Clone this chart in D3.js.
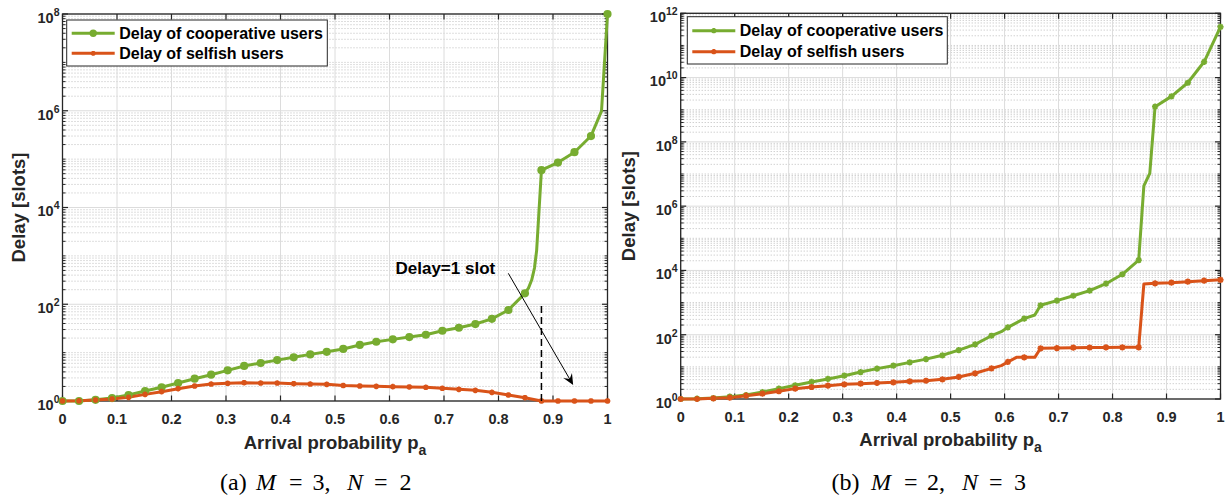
<!DOCTYPE html>
<html>
<head>
<meta charset="utf-8">
<script src="https://cdn.jsdelivr.net/npm/d3@7"></script>
<style>
  body { margin: 0; background: #fff; }
  svg { display: block; }
  .sans { font-family: "Liberation Sans", Arial, Helvetica, sans-serif; font-weight: bold; fill: #262626; }
  .serif { font-family: "Liberation Serif", "DejaVu Serif", serif; fill: #000; }
</style>
</head>
<body>
<svg id="fig" width="1225" height="500"></svg>
<script>
// Arrival probabilities at which the markers are placed (34 samples on [0, 1])
const pGrid = d3.range(34).map(i => i / 33);

// Panel (a): M = 3, N = 2 — average delay [slots] at each pGrid point
const coopA = [1.0, 1.0, 1.06, 1.15, 1.33, 1.61, 1.92, 2.35, 2.89, 3.5, 4.3, 5.3, 6.1, 7.0, 8.0, 9.2, 10.4,
  11.9, 14.4, 16.8, 18.8, 21, 23.4, 28.3, 32.7, 39, 50, 76, 168, 5.9e4, 8.5e4, 1.39e5, 3.0e5, 1e8];
const selfA = [1.0, 1.01, 1.05, 1.1, 1.19, 1.37, 1.56, 1.8, 2.04, 2.24, 2.32, 2.39, 2.35, 2.35, 2.28, 2.24, 2.21,
  2.09, 2.04, 2.01, 1.98, 1.95, 1.92, 1.83, 1.74, 1.66, 1.51, 1.33, 1.17, 1.0, 1.0, 1.0, 1.0, 1.0];
// finer samples of the curves between marker positions
const coopAExtra = [[0.855, 215], [0.861, 320], [0.866, 560], [0.870, 1300], [0.989, 9.8e5]];
const selfAExtra = [];

// Panel (b): M = 2, N = 3
const coopB = [1.0, 1.02, 1.07, 1.18, 1.33, 1.65, 2.1, 2.67, 3.4, 4.2, 5.3, 6.9, 8.8, 10.9, 13.8, 17.4, 22.9,
  33, 50.3, 93, 170, 315, 822, 1150, 1630, 2350, 3870, 7600, 2.1e4, 1.24e9, 2.6e9, 6.9e9, 3.1e10, 3.8e11];
const selfB = [1.0, 1.0, 1.05, 1.1, 1.27, 1.46, 1.74, 2.1, 2.36, 2.6, 2.86, 3.0, 3.15, 3.3, 3.55, 3.7, 4.1,
  4.85, 6.3, 9.0, 14.2, 19.8, 37.8, 38.5, 39.5, 40, 40.3, 40.5, 40.6, 3980, 4150, 4460, 4800, 5100];
const coopBExtra = [[0.594, 124], [0.656, 410], [0.858, 4.3e6], [0.869, 1.05e7]];
const selfBExtra = [[0.594, 10.9], [0.622, 19.8], [0.656, 19.8], [0.858, 3780]];

// Axis ticks and texts
const xTicks = d3.range(11).map(i => i / 10);
const xTickLabels = ["0", "0.1", "0.2", "0.3", "0.4", "0.5", "0.6", "0.7", "0.8", "0.9", "1"];
const yExpA = [0, 2, 4, 6, 8];
const yExpB = [0, 2, 4, 6, 8, 10, 12];
const legendLabels = ["Delay of cooperative users", "Delay of selfish users"];
const xTitle = ["Arrival probability p", "a"];
const yTitle = "Delay [slots]";
const captionA = [["(a)", false], ["M", true], ["=", false], ["3,", false], ["N", true], ["=", false], ["2", false]];
const captionB = [["(b)", false], ["M", true], ["=", false], ["2,", false], ["N", true], ["=", false], ["3", false]];
const annotationText = "Delay=1 slot";

const GREEN = "#77AC30", ORANGE = "#D95319", AX = "#262626";

const svg = d3.select("#fig");

function merge(values, extra) {
  return pGrid.map((p, i) => [p, values[i]]).concat(extra).sort((a, b) => a[0] - b[0]);
}

// asterisk marker (plus + cross)
function starPath(r) {
  const d = r * 0.72;
  return `M${-r},0L${r},0M0,${-r}L0,${r}M${-d},${-d}L${d},${d}M${-d},${d}L${d},${-d}`;
}

function drawMarker(g, cx, cy, kind, color) {
  if (kind.type === "circle") {
    g.append("circle").attr("cx", cx).attr("cy", cy).attr("r", kind.r).attr("fill", color);
  } else {
    g.append("circle").attr("cx", cx).attr("cy", cy).attr("r", kind.r * 0.55).attr("fill", color);
    g.append("path").attr("transform", `translate(${cx},${cy})`).attr("d", starPath(kind.r))
      .attr("stroke", color).attr("stroke-width", 1.8).attr("fill", "none");
  }
}

function drawPanel(o) {
  const g = svg.append("g");
  const x = d3.scaleLinear().domain([0, 1]).range([o.x0, o.x1]);
  const y = d3.scaleLog().domain([1, Math.pow(10, o.maxExp)]).range([o.yBot, o.yTop]);

  // minor horizontal grid and ticks
  const majorVals = o.yExp.map(e => Math.pow(10, e));
  const minorVals = [];
  for (let k = 0; k < o.maxExp; k++) {
    for (let m = 1; m <= 9; m++) {
      const v = m * Math.pow(10, k);
      if (m === 1 && o.yExp.includes(k)) continue;
      minorVals.push(v);
    }
  }
  g.append("g").selectAll("line").data(minorVals).join("line")
    .attr("x1", o.x0).attr("x2", o.x1)
    .attr("y1", d => y(d)).attr("y2", d => y(d))
    .attr("stroke", "#bdbdbd").attr("stroke-width", 1).attr("stroke-dasharray", "1,2");

  // major grid
  g.append("g").selectAll("line").data(majorVals).join("line")
    .attr("x1", o.x0).attr("x2", o.x1)
    .attr("y1", d => y(d)).attr("y2", d => y(d))
    .attr("stroke", "#dcdcdc").attr("stroke-width", 1);
  g.append("g").selectAll("line").data(xTicks).join("line")
    .attr("x1", d => x(d)).attr("x2", d => x(d))
    .attr("y1", o.yTop).attr("y2", o.yBot)
    .attr("stroke", "#dcdcdc").attr("stroke-width", 1);

  // frame
  g.append("rect").attr("x", o.x0).attr("y", o.yTop)
    .attr("width", o.x1 - o.x0).attr("height", o.yBot - o.yTop)
    .attr("fill", "none").attr("stroke", AX).attr("stroke-width", 1.3);

  // ticks (inward on all four sides)
  const tk = g.append("g").attr("stroke", AX).attr("stroke-width", 1.2);
  xTicks.forEach(t => {
    tk.append("line").attr("x1", x(t)).attr("x2", x(t)).attr("y1", o.yBot).attr("y2", o.yBot - 5.5);
    tk.append("line").attr("x1", x(t)).attr("x2", x(t)).attr("y1", o.yTop).attr("y2", o.yTop + 5.5);
  });
  majorVals.forEach(v => {
    tk.append("line").attr("x1", o.x0).attr("x2", o.x0 + 5.5).attr("y1", y(v)).attr("y2", y(v));
    tk.append("line").attr("x1", o.x1).attr("x2", o.x1 - 5.5).attr("y1", y(v)).attr("y2", y(v));
  });
  minorVals.forEach(v => {
    tk.append("line").attr("x1", o.x0).attr("x2", o.x0 + 3).attr("y1", y(v)).attr("y2", y(v)).attr("stroke-width", 1);
    tk.append("line").attr("x1", o.x1).attr("x2", o.x1 - 3).attr("y1", y(v)).attr("y2", y(v)).attr("stroke-width", 1);
  });

  // x tick labels
  g.append("g").selectAll("text").data(xTicks).join("text")
    .attr("class", "sans").attr("font-size", 14.5).attr("text-anchor", "middle")
    .attr("x", d => x(d)).attr("y", o.yBot + 22.5)
    .text((d, i) => xTickLabels[i]);

  // y tick labels 10^k
  o.yExp.forEach(e => {
    const t = g.append("text").attr("class", "sans").attr("text-anchor", "end")
      .attr("x", o.x0 - 3).attr("y", y(Math.pow(10, e)) + 8.8).attr("font-size", 14.5);
    t.append("tspan").text("10");
    t.append("tspan").attr("font-size", 10.5).attr("dy", -7).text(String(e));
  });

  // axis titles
  const xt = g.append("text").attr("class", "sans").attr("font-size", 18.5).attr("text-anchor", "middle")
    .attr("x", (o.x0 + o.x1) / 2).attr("y", o.yBot + o.xTitleDy);
  xt.append("tspan").text(xTitle[0]);
  xt.append("tspan").attr("font-size", 14).attr("dy", 6).text(xTitle[1]);
  g.append("text").attr("class", "sans").attr("font-size", 18.5).attr("text-anchor", "middle")
    .attr("transform", `translate(${o.yTitleX},${(o.yTop + o.yBot) / 2}) rotate(-90)`)
    .text(yTitle);

  // curves
  const line = d3.line().x(d => x(d[0])).y(d => y(d[1]));
  o.series.forEach(s => {
    g.append("path").datum(merge(s.values, s.extra)).attr("d", line)
      .attr("fill", "none").attr("stroke", s.color).attr("stroke-width", 3)
      .attr("stroke-linejoin", "round").attr("stroke-linecap", "round");
  });
  o.series.forEach(s => {
    const mg = g.append("g");
    pGrid.forEach((p, i) => drawMarker(mg, x(p), y(s.values[i]), s.marker, s.color));
  });

  // extra annotation drawn in data coordinates
  if (o.annotate) o.annotate(g, x, y);

  // legend
  const L = o.legend;
  g.append("rect").attr("x", L.x).attr("y", L.y).attr("width", L.w).attr("height", L.h)
    .attr("fill", "#fff").attr("stroke", AX).attr("stroke-width", 1);
  o.series.forEach((s, i) => {
    const ry = L.y + L.rows[i];
    g.append("line").attr("x1", L.x + 5).attr("x2", L.x + 48).attr("y1", ry).attr("y2", ry)
      .attr("stroke", s.color).attr("stroke-width", 3);
    drawMarker(g, L.x + 26.5, ry, s.legendMarker, s.color);
    g.append("text").attr("class", "sans").attr("font-size", 16).style("fill", "#000")
      .attr("x", L.x + 52.5).attr("y", ry + 5.7).text(legendLabels[i]);
  });

  // caption
  const c = svg.append("text").attr("class", "serif").attr("font-size", 24).attr("y", 489.5);
  o.caption.forEach((tok, i) => {
    c.append("tspan").attr("x", o.capX + o.capOffsets[i])
      .attr("font-style", tok[1] ? "italic" : "normal").text(tok[0]);
  });
}

drawPanel({
  x0: 62.5, x1: 607.5, yTop: 14, yBot: 401, maxExp: 8, yExp: yExpA,
  xTitleDy: 48, yTitleX: 25,
  series: [
    { values: coopA, extra: coopAExtra, color: GREEN, marker: { type: "circle", r: 4.1 }, legendMarker: { type: "circle", r: 3.7 } },
    { values: selfA, extra: selfAExtra, color: ORANGE, marker: { type: "star", r: 2.8 }, legendMarker: { type: "star", r: 2.4 } }
  ],
  legend: { x: 66.7, y: 20, w: 260.6, h: 46, rows: [13.3, 33.3] },
  caption: captionA, capX: 220, capOffsets: [0, 36, 69, 92.5, 127, 154, 179.5],
  annotate: (g, x, y) => {
    // dashed marker of the unit-delay point
    g.append("line").attr("x1", x(pGrid[29])).attr("x2", x(pGrid[29]))
      .attr("y1", y(1)).attr("y2", y(110))
      .attr("stroke", "#000").attr("stroke-width", 1.5).attr("stroke-dasharray", "7,4");
    const sx = x(0.818), sy = y(436), ex = x(0.937), ey = y(2.14);
    const ang = Math.atan2(ey - sy, ex - sx);
    const len = 11, half = 5, notch = 7;
    const ux = Math.cos(ang), uy = Math.sin(ang);
    g.append("line").attr("x1", sx).attr("y1", sy)
      .attr("x2", ex - ux * notch).attr("y2", ey - uy * notch)
      .attr("stroke", "#000").attr("stroke-width", 1);
    const bx = ex - ux * len, by = ey - uy * len;
    const pts = [[ex, ey], [bx - uy * half, by + ux * half], [ex - ux * notch, ey - uy * notch], [bx + uy * half, by - ux * half]];
    g.append("path").attr("d", "M" + pts.map(p => p.join(",")).join("L") + "Z").attr("fill", "#000");
    g.append("text").attr("class", "sans").attr("font-size", 17).style("fill", "#000")
      .attr("x", x(0.611)).attr("y", y(422)).text(annotationText);
  }
});

drawPanel({
  x0: 680.7, x1: 1220.5, yTop: 13.3, yBot: 399, maxExp: 12, yExp: yExpB,
  xTitleDy: 47, yTitleX: 635,
  series: [
    { values: coopB, extra: coopBExtra, color: GREEN, marker: { type: "star", r: 3.1 }, legendMarker: { type: "star", r: 2.6 } },
    { values: selfB, extra: selfBExtra, color: ORANGE, marker: { type: "star", r: 3.1 }, legendMarker: { type: "star", r: 2.6 } }
  ],
  legend: { x: 687.3, y: 16.7, w: 260, h: 47.3, rows: [14, 35] },
  caption: captionB, capX: 831.5, capOffsets: [0, 39.5, 72.5, 95.5, 130.5, 157.5, 182.5]
});
</script>
</body>
</html>
